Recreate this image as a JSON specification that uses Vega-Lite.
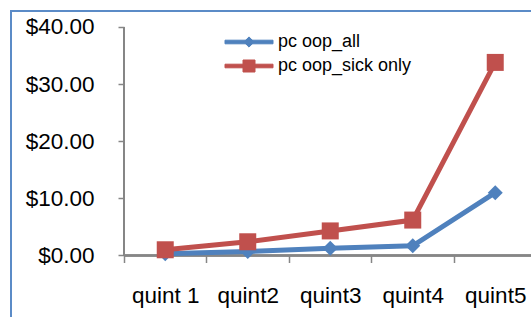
{
  "$schema": "https://vega.github.io/schema/vega-lite/v6.json",
  "autosize": {"type": "none"},
  "padding": {"left": 11, "top": 11, "right": -14, "bottom": -8},
  "width": 534,
  "height": 314,
  "background": "white",
  "config": {
    "view": {"stroke": "#5B8BC7", "strokeWidth": 2},
    "font": "Liberation Sans",
    "legend": {
      "orient": "none", "legendX": 229, "legendY": 22, "title": null, "padding": 0,
      "symbolSize": 144, "labelOffset": 20, "labelFontSize": 18, "labelFont": "Liberation Sans", "labelColor": "black", "rowPadding": 6, "symbolOpacity": 1, "symbolStrokeWidth": 1
    }
  },
  "data": {
    "values": [
      {"q": "quint 1", "series": "pc oop_all", "v": 0.3},
      {"q": "quint2", "series": "pc oop_all", "v": 0.7},
      {"q": "quint3", "series": "pc oop_all", "v": 1.26},
      {"q": "quint4", "series": "pc oop_all", "v": 1.7},
      {"q": "quint5", "series": "pc oop_all", "v": 11.0},
      {"q": "quint 1", "series": "pc oop_sick only", "v": 1.0},
      {"q": "quint2", "series": "pc oop_sick only", "v": 2.4},
      {"q": "quint3", "series": "pc oop_sick only", "v": 4.3},
      {"q": "quint4", "series": "pc oop_sick only", "v": 6.2},
      {"q": "quint5", "series": "pc oop_sick only", "v": 33.8}
    ]
  },
  "encoding": {
    "x": {
      "field": "q", "type": "nominal",
      "scale": {"type": "band", "domain": ["quint 1", "quint2", "quint3", "quint4", "quint5"], "paddingInner": 0, "paddingOuter": 0.73636, "align": 0.93},
      "axis": {"orient": "bottom", "offset": -69.5, "domain": false, "tickBand": "extent", "tickSize": 7, "tickColor": "#868686", "tickWidth": 1.5, "labelAngle": 0, "labelBaseline": "alphabetic", "labelPadding": 39.5, "labelFontSize": 22.5, "labelColor": "black", "labelFont": "Liberation Sans", "title": null, "grid": false, "zindex": 0}
    },
    "y": {
      "field": "v", "type": "quantitative",
      "scale": {"domain": [-12.17, 42.8], "nice": false, "zero": false},
      "axis": {"orient": "left", "offset": -113, "domain": false, "values": [0, 10, 20, 30, 40], "format": "$.2f", "tickSize": 6, "tickColor": "#868686", "tickWidth": 1.5, "labelPadding": 24, "labelFontSize": 22.5, "labelColor": "black", "labelFont": "Liberation Sans", "title": null, "grid": false, "zindex": 0}
    },
    "color": {
      "field": "series", "type": "nominal",
      "scale": {"domain": ["pc oop_all", "pc oop_sick only"], "range": ["#4F81BD", "#C0504D"]}
    }
  },
  "layer": [
    {
      "mark": {"type": "rule", "color": "#868686", "strokeWidth": 1.5},
      "encoding": {
        "x": {"datum": "quint 1", "bandPosition": 0},
        "y": {"datum": 0},
        "y2": {"datum": 40},
        "color": {"value": "#868686"}
      }
    },
    {
      "mark": {"type": "rule", "color": "#868686", "strokeWidth": 1.5},
      "encoding": {
        "x": {"datum": "quint 1", "bandPosition": 0},
        "x2": {"datum": "quint5", "bandPosition": 1},
        "y": {"datum": 0},
        "color": {"value": "#868686"}
      }
    },
    {
      "mark": {"type": "line", "strokeWidth": 5}
    },
    {
      "transform": [{"filter": "datum.series === 'pc oop_all'"}],
      "mark": {"type": "point", "filled": true, "opacity": 1, "shape": "diamond", "size": 225}
    },
    {
      "transform": [{"filter": "datum.series === 'pc oop_sick only'"}],
      "mark": {"type": "point", "filled": true, "opacity": 1, "shape": "square", "size": 289}
    },
    {
      "mark": {"type": "point", "filled": true, "opacity": 0},
      "encoding": {
        "shape": {
          "field": "series", "type": "nominal",
          "scale": {"domain": ["pc oop_all", "pc oop_sick only"], "range": ["M-4,-0.3H4V0.3H-4Z M0,-0.85L0.85,0L0,0.85L-0.85,0Z", "M-4,-0.3H4V0.3H-4Z M-1,-1H1V1H-1Z"]}
        }
      }
    }
  ]
}
